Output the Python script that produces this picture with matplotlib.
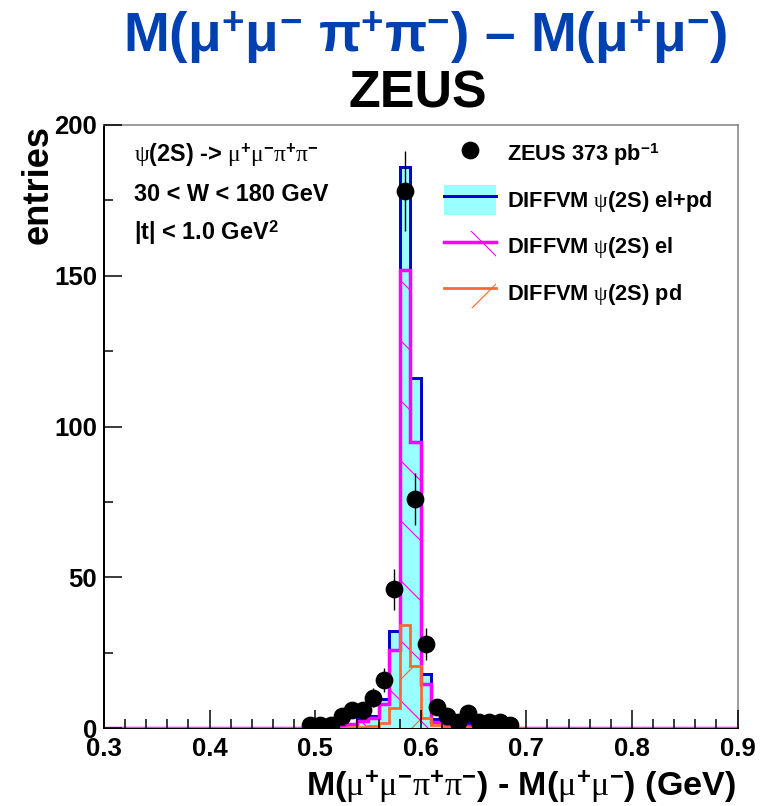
"""ZEUS psi(2S) mass difference plot: M(mu mu pi pi) - M(mu mu)."""

import numpy as np
from matplotlib import pyplot as plt
from matplotlib.lines import Line2D
from matplotlib.patches import Patch
from matplotlib.legend_handler import HandlerTuple
from matplotlib.ticker import MultipleLocator


# Histogram binning (GeV):
X_MIN, X_MAX, BIN_W = 0.3, 0.9, 0.01
PEAK_START = 0.50  # first bin of the arrays below

# DIFFVM predictions, bins 0.50-0.51 ... 0.67-0.68:
mc_total = [0.1, 0.2, 0.5, 1.4, 3.2, 4.0, 9.6, 32.3, 186, 116,
            18.0, 3.0, 1.2, 0.8, 1.5, 0.6, 0.3, 0.1]
mc_elastic = [0.1, 0.2, 0.4, 1.2, 2.3, 3.2, 8.0, 26.0, 152, 95,
              14.5, 2.0, 1.0, 0.6, 0.8, 0.4, 0.2, 0.1]
mc_pdiss = [0.0, 0.0, 0.1, 0.2, 0.3, 0.6, 1.8, 6.6, 34, 20.6,
            3.4, 1.0, 0.3, 0.2, 0.2, 0.1, 0.0, 0.0]

# ZEUS data points:
data_x = [0.495, 0.505, 0.515, 0.525, 0.535, 0.545, 0.555, 0.565, 0.575, 0.585,
          0.595, 0.605, 0.615, 0.625, 0.635, 0.645, 0.655, 0.665, 0.675, 0.685]
data_y = [1, 1, 1, 4, 6, 6, 10, 16, 46, 178,
          76, 28, 7, 4, 2, 5, 2, 2, 2, 1]
data_err = [1.0, 1.0, 1.0, 2.0, 2.4, 2.4, 3.2, 4.0, 6.8, 13.3,
            8.7, 5.3, 2.6, 2.0, 1.4, 2.2, 1.4, 1.4, 1.4, 1.0]

x_ticks = [0.3, 0.4, 0.5, 0.6, 0.7, 0.8, 0.9]
y_ticks = [0, 50, 100, 150, 200]

CYAN = "#99ffff"
BLUE = "#0000cc"
MAGENTA = "#ff00ff"
ORANGE = "#ff6633"
TITLE_BLUE = "#0040b0"

MU = r"\mathrm{\mu}"
PI = r"\mathrm{\pi}"
UP = r"^{\mathbf{+}}"
DN = r"^{\mathbf{-}}"


def full_range(values):
    """Pads a peak array with empty bins so it spans the whole axis."""
    n_bins = int(round((X_MAX - X_MIN) / BIN_W))
    out = np.zeros(n_bins)
    start = int(round((PEAK_START - X_MIN) / BIN_W))
    out[start:start + len(values)] = values
    return out


if __name__ == "__main__":

    # Global style:
    DPI = 180
    plt.rcParams["font.family"] = ["Liberation Sans", "DejaVu Sans"]
    plt.rcParams["font.weight"] = "bold"
    plt.rcParams["axes.labelweight"] = "bold"
    plt.rcParams["mathtext.fontset"] = "custom"
    plt.rcParams["mathtext.rm"] = "Liberation Serif:weight=normal"
    plt.rcParams["mathtext.it"] = "Liberation Serif:italic:weight=normal"
    plt.rcParams["mathtext.bf"] = "Liberation Sans:bold"
    plt.rcParams["hatch.linewidth"] = 0.45

    W, H = 760, 806
    fig = plt.figure(figsize=(W / DPI, H / DPI), dpi=DPI)
    ax = fig.add_axes([104 / W, 1 - 728 / H, (737.5 - 104) / W, (728 - 125) / H])

    edges = np.linspace(X_MIN, X_MAX, int(round((X_MAX - X_MIN) / BIN_W)) + 1)

    # Histograms:
    ax.stairs(full_range(mc_total), edges, fill=True, facecolor=CYAN,
              edgecolor=BLUE, linewidth=1.2, zorder=2.6)
    ax.stairs(full_range(mc_elastic), edges, fill=True, facecolor="none",
              edgecolor=MAGENTA, hatch="\\", linewidth=1.4, zorder=2.6)
    ax.stairs(full_range(mc_pdiss), edges, fill=True, facecolor="none",
              edgecolor=ORANGE, hatch="/", linewidth=1.1, zorder=2.6)

    # Data:
    ax.errorbar(data_x, data_y, yerr=data_err, fmt="o", color="black",
                markersize=6.1, elinewidth=0.55, capsize=0, zorder=4)

    # Axes setup:
    ax.set_xlim(X_MIN, X_MAX)
    ax.set_ylim(0, 200)
    ax.set_xticks(x_ticks)
    ax.set_xticklabels([f"{t:.1f}" for t in x_ticks])
    ax.set_yticks(y_ticks)
    ax.xaxis.set_minor_locator(MultipleLocator(0.02))
    ax.yaxis.set_minor_locator(MultipleLocator(25))
    ax.tick_params(which="both", direction="in", top=False, right=False,
                   width=0.6, labelsize=10.3)
    ax.tick_params(which="major", length=7.2)
    ax.tick_params(which="minor", length=3.6)
    ax.tick_params(axis="y", pad=2.8)
    ax.tick_params(axis="x", pad=3.5)
    ax.xaxis.set_zorder(2.7)
    ax.yaxis.set_zorder(2.7)

    for side in ("left", "bottom"):
        ax.spines[side].set_linewidth(0.8)
        ax.spines[side].set_color("black")
    for side in ("top", "right"):
        ax.spines[side].set_linewidth(0.6)
        ax.spines[side].set_color("#808080")

    ax.set_ylabel("entries", fontsize=14.5, loc="top", va="baseline")
    ax.yaxis.set_label_coords(-(104 - 48) / 633.5, 1.0)
    ax.set_xlabel(f"M(${MU}{UP}{MU}{DN}{PI}{UP}{PI}{DN}$) - M(${MU}{UP}{MU}{DN}$) (GeV)",
                  fontsize=13.6, loc="right", va="baseline")
    ax.xaxis.set_label_coords(0.997, -(796 - 728) / 603)

    # Titles:
    fig.text(425 / W, 1 - 52 / H,
             "M(μ$^{\\mathbf{+}}$μ$^{\\mathbf{-}}$ π$^{\\mathbf{+}}$π$^{\\mathbf{-}}$)"
             " – M(μ$^{\\mathbf{+}}$μ$^{\\mathbf{-}}$)",
             ha="center", va="baseline", fontsize=22, color=TITLE_BLUE)
    fig.text(418 / W, 1 - 108 / H, "ZEUS", ha="center", va="baseline",
             fontsize=20.8, color="black")

    # Selection text:
    lines = [
        f"$\\mathrm{{\\psi}}$(2S) -> ${MU}{UP}{MU}{DN}{PI}{UP}{PI}{DN}$",
        "30 < W < 180 GeV",
        "|t| < 1.0 GeV$^{\\mathbf{2}}$",
    ]
    for text, base in zip(lines, [161, 201, 240]):
        fig.text(134 / W, 1 - base / H, text, ha="left", va="baseline",
                 fontsize=9.4)

    # Legend:
    handles = [
        Line2D([], [], marker="o", ls="none", color="black", markersize=6.1),
        (Patch(facecolor=CYAN, edgecolor="none"),
         Line2D([], [], color=BLUE, lw=1.2)),
        (Patch(facecolor="none", edgecolor=MAGENTA, hatch="\\", lw=0),
         Line2D([], [], color=MAGENTA, lw=1.4)),
        (Patch(facecolor="none", edgecolor=ORANGE, hatch="/", lw=0),
         Line2D([], [], color=ORANGE, lw=1.1)),
    ]
    labels = [
        "ZEUS 373 pb$^{\\mathbf{-1}}$",
        "DIFFVM $\\mathrm{\\psi}$(2S) el+pd",
        "DIFFVM $\\mathrm{\\psi}$(2S) el",
        "DIFFVM $\\mathrm{\\psi}$(2S) pd",
    ]
    ax.legend(handles, labels, handler_map={tuple: HandlerTuple(ndivide=1)},
              loc="upper left", bbox_to_anchor=(444 / W, 1 - 138.5 / H),
              bbox_transform=fig.transFigure, frameon=False, fontsize=8.7,
              borderpad=0, borderaxespad=0, handlelength=2.39,
              handleheight=1.8, labelspacing=0.71, handletextpad=0.5)

    fig.savefig("out.png", dpi=DPI)
